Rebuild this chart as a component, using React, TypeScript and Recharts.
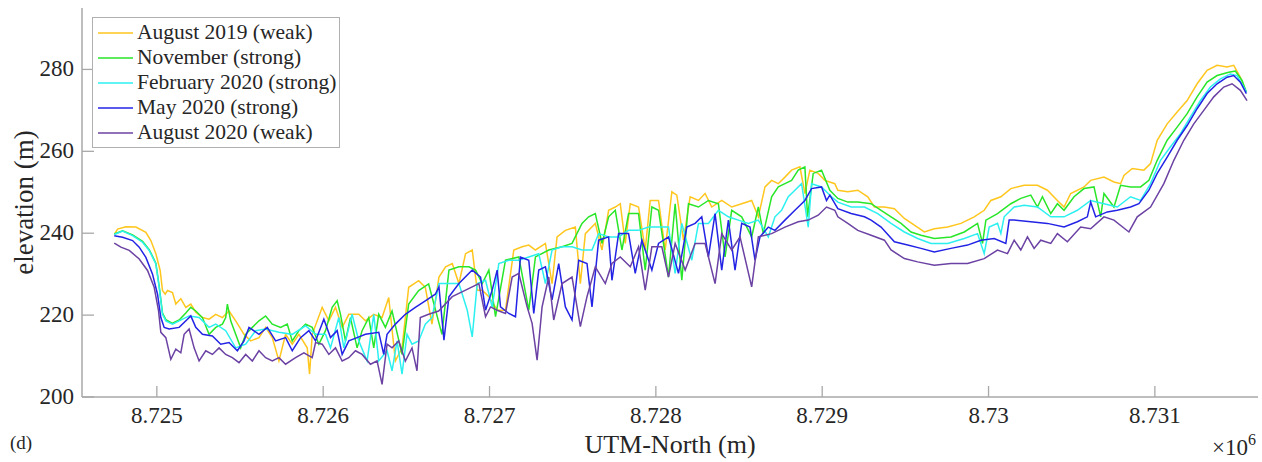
import React from "react";
import { LineChart, Line, XAxis, YAxis, Legend } from "recharts";

type Pt = [number, number];

// UTM-North (m), elevation (m)
const aug2019: Pt[] = [
  [8724744, 239.7], [8724764, 241], [8724814, 241.6], [8724874, 241.5], [8724934, 240.2], [8724964, 238.2],
  [8724994, 235], [8725020, 230.9], [8725034, 226], [8725050, 225.1], [8725064, 226], [8725094, 225.5],
  [8725114, 222.7], [8725144, 224], [8725174, 221.9], [8725204, 222.7], [8725234, 220.7], [8725274, 219.4],
  [8725314, 219], [8725354, 220.2], [8725394, 219.4], [8725434, 221], [8725474, 218.6], [8725524, 215.3],
  [8725564, 213.7], [8725614, 214.5], [8725654, 217], [8725694, 214.5], [8725734, 208.8], [8725774, 215.3],
  [8725814, 212.9], [8725854, 215.3], [8725904, 212], [8725918, 205.6], [8725934, 215.3], [8725994, 221.9],
  [8726034, 218.6], [8726074, 221.9], [8726114, 217], [8726154, 220.2], [8726214, 220.2], [8726254, 218.6],
  [8726304, 220.2], [8726354, 219.4], [8726394, 224.3], [8726434, 208.8], [8726474, 212], [8726514, 226.8],
  [8726574, 228.4], [8726614, 226.8], [8726654, 217.8], [8726696, 229.3], [8726736, 231.8], [8726776, 232.6],
  [8726816, 227.7], [8726856, 235], [8726896, 235.9], [8726926, 226.1], [8726956, 226.1], [8726996, 224.5],
  [8727046, 221.2], [8727096, 221.2], [8727146, 235.9], [8727196, 236.7], [8727236, 237.1], [8727276, 235.9],
  [8727336, 237.5], [8727376, 227.7], [8727406, 239.1], [8727456, 240.7], [8727516, 241.5], [8727546, 227.7],
  [8727576, 239.9], [8727636, 242.4], [8727676, 235.9], [8727716, 245.6], [8727756, 246.4], [8727786, 247.2],
  [8727816, 237.5], [8727846, 247.2], [8727896, 246.4], [8727936, 235.9], [8727966, 248], [8728016, 248],
  [8728056, 235.9], [8728096, 250.1], [8728126, 249.3], [8728166, 238.3], [8728206, 248.9], [8728256, 248],
  [8728296, 249.7], [8728336, 246.4], [8728396, 248], [8728456, 246.4], [8728516, 247.2], [8728576, 248],
  [8728616, 244], [8728656, 251.3], [8728696, 252.9], [8728736, 252.1], [8728776, 253.7], [8728816, 255.4],
  [8728866, 256.2], [8728896, 249.7], [8728926, 255.4], [8728976, 254.6], [8729016, 252.9], [8729076, 252.1],
  [8729094, 250.5], [8729154, 250.1], [8729214, 250.5], [8729274, 248.9], [8729314, 246.4], [8729374, 246.4],
  [8729434, 246], [8729494, 243.6], [8729554, 242], [8729614, 240.3], [8729674, 241.1], [8729754, 241.5],
  [8729834, 242.4], [8729914, 244], [8729974, 245.6], [8730014, 248], [8730074, 248.9], [8730134, 250.9],
  [8730214, 251.7], [8730294, 251.7], [8730354, 250.5], [8730414, 248], [8730454, 246.4], [8730494, 249.7],
  [8730574, 251.3], [8730614, 252.9], [8730694, 253.7], [8730754, 252.5], [8730794, 252.1], [8730814, 254.1],
  [8730864, 255.8], [8730934, 255.4], [8730974, 257], [8731014, 262.7], [8731074, 266.7], [8731134, 269.6],
  [8731194, 272.4], [8731254, 276.5], [8731314, 279.8], [8731374, 281], [8731434, 280.6], [8731474, 281],
  [8731514, 278.1], [8731544, 274.9],
];

const nov2019: Pt[] = [
  [8724744, 239.8], [8724794, 240.6], [8724854, 239.6], [8724914, 238], [8724954, 236], [8724994, 232.7],
  [8725014, 227], [8725034, 220.5], [8725054, 218.9], [8725094, 218], [8725134, 218.8], [8725174, 220.5],
  [8725204, 221.9], [8725234, 221], [8725274, 219.4], [8725314, 215.3], [8725354, 217], [8725394, 217.8],
  [8725414, 219.4], [8725424, 222.7], [8725444, 218.6], [8725474, 215.3], [8725504, 212], [8725534, 215.3],
  [8725574, 217], [8725614, 218.6], [8725654, 219.8], [8725694, 217.8], [8725744, 217], [8725784, 217.8],
  [8725814, 213.7], [8725854, 216.2], [8725894, 217.8], [8725934, 217], [8725974, 212.9], [8726014, 216.2],
  [8726054, 221.9], [8726084, 223.5], [8726104, 220.2], [8726134, 213.7], [8726164, 219.4], [8726204, 212],
  [8726234, 216.2], [8726274, 219.4], [8726304, 212], [8726334, 220.2], [8726374, 217], [8726414, 221],
  [8726474, 210.4], [8726514, 222.7], [8726574, 226], [8726634, 227.6], [8726714, 215.3], [8726756, 231],
  [8726816, 231.8], [8726876, 231.8], [8726916, 231], [8726956, 227.7], [8726996, 231], [8727036, 219.6],
  [8727096, 233.4], [8727176, 234.2], [8727236, 221.2], [8727276, 234.2], [8727356, 235.9], [8727436, 236.7],
  [8727496, 237.5], [8727556, 242.4], [8727596, 244], [8727636, 244.8], [8727676, 237.5], [8727716, 244],
  [8727756, 245.6], [8727796, 235.9], [8727836, 244.8], [8727896, 244.8], [8727936, 231], [8727976, 246.4],
  [8728016, 245.6], [8728076, 229.3], [8728116, 247.2], [8728156, 228.5], [8728196, 247.2], [8728256, 246.4],
  [8728316, 248], [8728376, 247.2], [8728416, 234.2], [8728456, 245.6], [8728516, 244], [8728576, 239.1],
  [8728616, 246.4], [8728646, 239.9], [8728696, 248.9], [8728736, 251.3], [8728776, 252.1], [8728816, 252.9],
  [8728856, 255.4], [8728896, 256.2], [8728912, 244], [8728946, 254.6], [8728996, 255.4], [8729046, 250.5],
  [8729094, 248.5], [8729154, 247.6], [8729214, 247.6], [8729294, 247.2], [8729354, 245.6], [8729414, 244],
  [8729474, 242.4], [8729534, 240.3], [8729594, 239.5], [8729674, 238.7], [8729774, 239.1], [8729854, 240.3],
  [8729934, 242.4], [8729964, 237.5], [8729984, 243.2], [8730054, 244.8], [8730134, 247.2], [8730194, 248.5],
  [8730254, 249.3], [8730294, 246.4], [8730324, 248.9], [8730374, 244.8], [8730414, 247.2], [8730454, 245.6],
  [8730514, 248.9], [8730574, 250.9], [8730634, 251.3], [8730674, 244], [8730694, 249.7], [8730754, 246.4],
  [8730794, 251.7], [8730854, 251.3], [8730914, 251.3], [8730964, 252.9], [8731014, 257.8], [8731074, 262.7],
  [8731134, 265.9], [8731194, 269.2], [8731254, 273.3], [8731314, 276.9], [8731374, 278.5], [8731444, 279.3],
  [8731484, 279.6], [8731524, 277.3], [8731550, 274.5],
];

const feb2020: Pt[] = [
  [8724744, 239.7], [8724794, 240.5], [8724854, 239.4], [8724914, 237.8], [8724954, 235.8], [8724994, 232.5],
  [8725014, 226.8], [8725034, 220.2], [8725054, 218.6], [8725094, 217.8], [8725134, 218.6], [8725194, 219.8],
  [8725254, 219.4], [8725314, 217], [8725354, 217.8], [8725414, 216.2], [8725474, 212], [8725534, 212.9],
  [8725594, 216.2], [8725654, 216.6], [8725734, 215.8], [8725814, 215.3], [8725894, 217.4], [8725954, 215.3],
  [8726014, 215.3], [8726044, 212], [8726094, 219.4], [8726124, 212], [8726174, 220.2], [8726214, 213.7],
  [8726264, 208.8], [8726304, 220.2], [8726334, 208.8], [8726384, 211.3], [8726414, 206.4], [8726444, 213.7],
  [8726474, 205.6], [8726504, 215.3], [8726534, 212.9], [8726574, 213.7], [8726614, 217.8], [8726654, 219.4],
  [8726696, 227.7], [8726756, 227.7], [8726816, 227.7], [8726866, 221.2], [8726896, 214.7], [8726926, 227.7],
  [8726976, 228.5], [8727016, 222], [8727056, 232.6], [8727116, 233.4], [8727176, 233.4], [8727236, 234.2],
  [8727296, 235], [8727336, 227.7], [8727376, 235.9], [8727436, 236.7], [8727496, 236.7], [8727556, 235.9],
  [8727616, 235.9], [8727656, 239.9], [8727716, 239.1], [8727776, 239.1], [8727836, 240.7], [8727896, 240.7],
  [8727956, 241.5], [8728016, 241.5], [8728076, 241.5], [8728116, 230.2], [8728156, 242.4], [8728216, 233.4],
  [8728256, 242.4], [8728316, 242.4], [8728376, 245.6], [8728436, 244], [8728496, 243.2], [8728556, 242.4],
  [8728616, 243.2], [8728676, 239.1], [8728716, 244], [8728756, 245.6], [8728796, 248.9], [8728836, 250.5],
  [8728876, 252.1], [8728916, 241.5], [8728936, 252.1], [8728996, 251.3], [8729056, 248.9], [8729094, 247.6],
  [8729174, 246.4], [8729254, 246.4], [8729334, 244.8], [8729414, 242.4], [8729494, 240.3], [8729574, 238.7],
  [8729654, 237.5], [8729754, 237.5], [8729854, 238.7], [8729934, 239.9], [8729974, 235], [8730004, 241.5],
  [8730054, 242.4], [8730074, 239.9], [8730094, 244], [8730154, 246.4], [8730214, 246.8], [8730294, 246.4],
  [8730374, 244], [8730454, 244], [8730534, 245.6], [8730614, 248], [8730694, 247.2], [8730774, 246.4],
  [8730854, 248.9], [8730914, 248], [8730974, 252.1], [8731034, 257.8], [8731094, 261.1], [8731154, 264.3],
  [8731214, 268.4], [8731274, 272.4], [8731334, 275.7], [8731394, 277.7], [8731454, 278.9], [8731494, 278.5],
  [8731534, 275.7], [8731550, 274.5],
];

const may2020: Pt[] = [
  [8724744, 239.4], [8724794, 239], [8724854, 238.2], [8724894, 236.6], [8724934, 234.1], [8724974, 230],
  [8725004, 225.1], [8725024, 219.4], [8725044, 217], [8725074, 216.6], [8725134, 217], [8725184, 219],
  [8725204, 219.8], [8725234, 217], [8725274, 215.3], [8725334, 214.9], [8725384, 212.9], [8725434, 213.3],
  [8725484, 211.3], [8725524, 213.7], [8725554, 217], [8725614, 215.3], [8725664, 217], [8725714, 213.7],
  [8725774, 214.5], [8725814, 211.3], [8725864, 214.5], [8725914, 216.2], [8725954, 213.7], [8726004, 219],
  [8726044, 214.5], [8726084, 216.2], [8726114, 210.4], [8726154, 213.7], [8726204, 214.5], [8726254, 215.3],
  [8726334, 215.8], [8726364, 210.4], [8726384, 215.3], [8726434, 217.8], [8726494, 220.2], [8726554, 221.9],
  [8726614, 223.5], [8726674, 225.1], [8726696, 226.9], [8726726, 213.9], [8726756, 224.5], [8726816, 227.7],
  [8726896, 231], [8726946, 229.3], [8726976, 221.2], [8727016, 226.1], [8727046, 231], [8727066, 222],
  [8727116, 220.4], [8727156, 219.6], [8727186, 234.2], [8727236, 233.4], [8727266, 220.4], [8727296, 231],
  [8727336, 231.8], [8727376, 223.7], [8727416, 232.6], [8727456, 222], [8727496, 218.8], [8727536, 233.4],
  [8727586, 232.6], [8727616, 222], [8727656, 238.3], [8727716, 239.1], [8727736, 228.5], [8727776, 239.9],
  [8727836, 239.9], [8727876, 230.2], [8727916, 238.3], [8727976, 231], [8728016, 237.5], [8728076, 239.1],
  [8728136, 230.2], [8728186, 241.5], [8728236, 242.4], [8728276, 244], [8728316, 234.2], [8728356, 244.8],
  [8728396, 231], [8728436, 243.2], [8728476, 231], [8728516, 242.4], [8728566, 241.5], [8728596, 233.4],
  [8728626, 239.1], [8728676, 241.5], [8728716, 240.7], [8728776, 243.2], [8728836, 245.6], [8728896, 248],
  [8728936, 250.9], [8728996, 251.3], [8729026, 248], [8729046, 249.3], [8729094, 246], [8729174, 244.8],
  [8729254, 244], [8729294, 243.2], [8729354, 241.5], [8729434, 237.9], [8729514, 237.1], [8729594, 236.3],
  [8729674, 235.4], [8729774, 236.3], [8729874, 237.1], [8729954, 238.3], [8730034, 238.7], [8730104, 237.5],
  [8730124, 243.2], [8730154, 243.2], [8730254, 242.8], [8730354, 242.4], [8730454, 241.5], [8730534, 242.8],
  [8730594, 244], [8730614, 247.6], [8730644, 244], [8730714, 245.2], [8730774, 245.6], [8730854, 246.4],
  [8730904, 247.2], [8730964, 250.5], [8731014, 254.6], [8731074, 258.6], [8731134, 262.7], [8731194, 266.3],
  [8731254, 270.4], [8731314, 274.1], [8731374, 276.5], [8731434, 278.1], [8731474, 278.5], [8731514, 276.9],
  [8731550, 274.1],
];

const aug2020: Pt[] = [
  [8724744, 237.6], [8724784, 236.6], [8724834, 235.8], [8724894, 233.7], [8724944, 230.9], [8724984, 226.8],
  [8725010, 221.1], [8725024, 215.8], [8725054, 214.5], [8725084, 209.2], [8725114, 211.7], [8725144, 210.8],
  [8725164, 215.3], [8725194, 216.6], [8725224, 212], [8725254, 208.8], [8725294, 211.3], [8725334, 210.4],
  [8725374, 212], [8725414, 210.4], [8725454, 209.6], [8725494, 208.4], [8725534, 210.4], [8725574, 208.8],
  [8725614, 211.3], [8725654, 209.6], [8725694, 208.8], [8725734, 209.6], [8725774, 208], [8725834, 209.6],
  [8725884, 210.8], [8725934, 209.6], [8725954, 213.3], [8725994, 212.9], [8726034, 210.4], [8726074, 212],
  [8726114, 208.8], [8726154, 209.6], [8726194, 211.3], [8726234, 210.4], [8726284, 208], [8726324, 208.8],
  [8726354, 203.1], [8726384, 212.9], [8726414, 212], [8726454, 213.7], [8726494, 208.8], [8726534, 212],
  [8726564, 206.4], [8726584, 219.4], [8726634, 220.2], [8726694, 221], [8726776, 224.5], [8726856, 226.1],
  [8726936, 227.7], [8726976, 219.6], [8727006, 222], [8727046, 221.2], [8727096, 220.4], [8727136, 229.3],
  [8727176, 230.2], [8727226, 222], [8727256, 218], [8727286, 209], [8727316, 222], [8727356, 229.3],
  [8727386, 218.8], [8727436, 227.7], [8727496, 229.3], [8727546, 217.2], [8727586, 224.5], [8727636, 231.8],
  [8727696, 227.7], [8727736, 232.6], [8727786, 234.2], [8727846, 231.8], [8727896, 236.7], [8727936, 226.1],
  [8727976, 236.7], [8728036, 236.7], [8728076, 229.3], [8728116, 237.5], [8728176, 231], [8728236, 237.5],
  [8728296, 237.5], [8728356, 227.7], [8728396, 239.9], [8728456, 235.9], [8728506, 239.1], [8728576, 226.9],
  [8728616, 239.1], [8728696, 239.9], [8728776, 241.5], [8728856, 242.8], [8728916, 243.2], [8728976, 244.4],
  [8729026, 246.4], [8729076, 245.6], [8729094, 244], [8729154, 242.4], [8729214, 240.7], [8729294, 239.5],
  [8729374, 238.3], [8729414, 235.9], [8729494, 233.8], [8729574, 233], [8729674, 232.2], [8729774, 232.6],
  [8729874, 232.6], [8729974, 233.8], [8730054, 235.9], [8730114, 235], [8730154, 238.3], [8730194, 235.9],
  [8730234, 239.1], [8730274, 236.3], [8730314, 238.3], [8730374, 237.5], [8730414, 239.9], [8730474, 237.9],
  [8730554, 241.5], [8730614, 241.1], [8730694, 244], [8730754, 243.2], [8730844, 240.3], [8730894, 244],
  [8730974, 246.4], [8731054, 252.1], [8731114, 257.8], [8731174, 262.7], [8731234, 266.7], [8731294, 270],
  [8731354, 273.3], [8731414, 275.7], [8731464, 276.5], [8731514, 274.9], [8731554, 272.4],
];

const xTicks = [8725000, 8726000, 8727000, 8728000, 8729000, 8730000, 8731000];
const yTicks = [200, 220, 240, 260, 280];

const series = [
  { name: "August 2019 (weak)", color: "#FFC61E", pts: aug2019 },
  { name: "November (strong)", color: "#28E628", pts: nov2019 },
  { name: "February 2020 (strong)", color: "#2CF0F0", pts: feb2020 },
  { name: "May 2020 (strong)", color: "#2323E6", pts: may2020 },
  { name: "August 2020 (weak)", color: "#6B42A3", pts: aug2020 },
];

const FONT = "'Liberation Serif', 'Times New Roman', serif";
const AXIS = "#a8a8a8";
const INK = "#262626";

const XTick = (props: any) => {
  const { x, y, payload } = props;
  return (
    <g>
      <line x1={x} y1={y} x2={x} y2={y - 11} stroke={AXIS} strokeWidth={1.3} />
      <text x={x} y={y + 26} textAnchor="middle" fill={INK} fontFamily={FONT} style={{ fontFamily: FONT, fontSize: 23 }}>
        {String(payload.value / 1e6)}
      </text>
    </g>
  );
};

const YTick = (props: any) => {
  const { x, y, payload } = props;
  return (
    <g>
      <line x1={x} y1={y} x2={x + 12} y2={y} stroke={AXIS} strokeWidth={1.3} />
      <text x={x - 8} y={y + 7} textAnchor="end" fill={INK} fontFamily={FONT} style={{ fontFamily: FONT, fontSize: 23 }}>
        {payload.value}
      </text>
    </g>
  );
};

const XTitle = (props: any) => {
  const vb = props.viewBox;
  return (
    <g fill={INK} fontFamily={FONT}>
      <text x={vb.x + vb.width / 2} y={vb.y + 56} textAnchor="middle" style={{ fontFamily: FONT, fontSize: 26 }}>
        UTM-North (m)
      </text>
      <text x={10} y={vb.y + 52} style={{ fontFamily: FONT, fontSize: 19 }}>
        (d)
      </text>
      <text x={vb.x + vb.width - 2} y={vb.y + 58} textAnchor="end" style={{ fontFamily: FONT, fontSize: 23 }}>
        ×10
        <tspan dy={-10} style={{ fontSize: 16 }}>6</tspan>
      </text>
    </g>
  );
};

const YTitle = (props: any) => {
  const vb = props.viewBox;
  const cx = 24;
  const cy = vb.y + vb.height / 2;
  return (
    <text
      x={cx}
      y={cy}
      transform={`rotate(-90, ${cx}, ${cy})`}
      textAnchor="middle"
      dominantBaseline="central"
      fill={INK}
      fontFamily={FONT}
      style={{ fontFamily: FONT, fontSize: 27 }}
    >
      elevation (m)
    </text>
  );
};

const LegendBox = () => (
  <div
    style={{
      border: "1px solid #b0b0b0",
      background: "#fff",
      padding: "2px 0 2px 4px",
      fontFamily: FONT,
      fontSize: 21.5,
      color: INK,
      width: 242,
    }}
  >
    {series.map((s) => (
      <div key={s.name} style={{ display: "flex", alignItems: "center", height: 25 }}>
        <svg width={40} height={10} style={{ flex: "none" }}>
          <line x1={1} y1={5} x2={36} y2={5} stroke={s.color} strokeWidth={1.5} />
        </svg>
        <span style={{ whiteSpace: "nowrap" }}>{s.name}</span>
      </div>
    ))}
  </div>
);

export default function App() {
  return (
    <div style={{ position: "absolute", left: 0, top: 0, background: "#fff" }}>
      <LineChart width={1262} height={462} margin={{ top: 8, right: 4, bottom: 0, left: 0 }}>
        <XAxis
          type="number"
          dataKey="x"
          domain={[8724550, 8731620]}
          allowDataOverflow
          ticks={xTicks}
          tick={<XTick />}
          tickLine={false}
          tickSize={0}
          tickMargin={0}
          height={65}
          axisLine={{ stroke: AXIS, strokeWidth: 1.5 }}
          label={<XTitle />}
        />
        <YAxis
          type="number"
          dataKey="y"
          domain={[200, 295]}
          allowDataOverflow
          ticks={yTicks}
          tick={<YTick />}
          tickLine={false}
          tickSize={0}
          tickMargin={0}
          width={82}
          axisLine={{ stroke: AXIS, strokeWidth: 1.5 }}
          label={<YTitle />}
        />
        <Legend
          layout="horizontal"
          verticalAlign="middle"
          align="center"
          content={() => <LegendBox />}
          wrapperStyle={{ left: 92, top: 17, width: "auto", height: "auto" }}
        />
        {series.map((s) => (
          <Line
            key={s.name}
            name={s.name}
            data={s.pts.map(([x, y]) => ({ x, y }))}
            dataKey="y"
            type="linear"
            stroke={s.color}
            strokeWidth={1.5}
            dot={false}
            activeDot={false}
            isAnimationActive={false}
          />
        ))}
      </LineChart>
    </div>
  );
}
